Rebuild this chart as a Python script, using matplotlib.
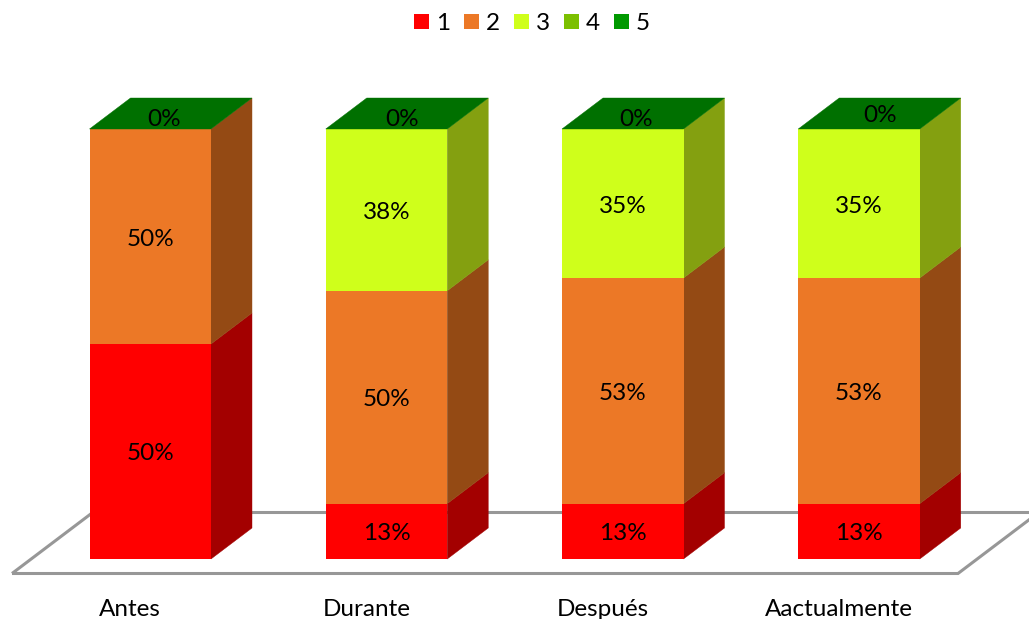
import matplotlib.pyplot as plt
from matplotlib.patches import Patch, Polygon

categories = ["Antes", "Durante", "Después", "Aactualmente"]
series_names = ["1", "2", "3", "4", "5"]
series_1 = [50, 13, 13, 13]
series_2 = [50, 50, 53, 53]
series_3 = [0, 38, 35, 35]
series_4 = [0, 0, 0, 0]
series_5 = [0, 0, 0, 0]

front_colors = ["#ff0000", "#ec7826", "#cfff1b", "#7cc000", "#009900"]
side_colors = ["#a30000", "#944a14", "#84a010", "#4f7a00", "#006000"]
top_color = "#007000"
floor_color = "#979797"

plt.rcParams["font.family"] = ["Lato", "DejaVu Sans"]
FONT_SIZE = 17.5

# one axes over the whole canvas, scaled so a full bar spans 430 px
W, H = 1029, 619
PX_X = 236.25
PX_Y = 4.3
fig = plt.figure(figsize=(W / 100, H / 100), dpi=100)
ax = fig.add_axes([0, 0, 1, 1])
ax.set_xlim(-150.25 / PX_X, (W - 150.25) / PX_X)
ax.set_ylim(-(H - 559) / PX_Y, 559 / PX_Y)
ax.axis("off")

bar_w = 121.5 / PX_X
depth_x = 41 / PX_X
depth_y = 31 / PX_Y


def draw_floor():
    # the floor runs past the right edge of the canvas, the axes clips it
    x0 = -138.25 / PX_X
    x1 = 807.75 / PX_X
    y0 = -14.5 / PX_Y
    y1 = 46.5 / PX_Y
    shift = (y1 - y0) * PX_Y / 31 * depth_x
    floor = Polygon(
        [(x0, y0), (x1, y0), (x1 + shift, y1), (x0 + shift, y1)],
        closed=True, fill=False, edgecolor=floor_color, linewidth=2.2, zorder=1,
    )
    ax.add_patch(floor)


def draw_bar(x, values):
    total = sum(values)
    left = x - bar_w / 2
    right = x + bar_w / 2
    base = 0
    for i, value in enumerate(values):
        share = value / total * 100
        if share > 0:
            ax.bar(x, share, bar_w, bottom=base, color=front_colors[i], linewidth=0, zorder=3)
            side = Polygon(
                [
                    (right, base),
                    (right + depth_x, base + depth_y),
                    (right + depth_x, base + share + depth_y),
                    (right, base + share),
                ],
                closed=True, facecolor=side_colors[i], edgecolor=side_colors[i],
                linewidth=0.3, zorder=2,
            )
            ax.add_patch(side)
        base += share
    top = Polygon(
        [(left, base), (right, base), (right + depth_x, base + depth_y), (left + depth_x, base + depth_y)],
        closed=True, facecolor=top_color, edgecolor=top_color, linewidth=0.3, zorder=4,
    )
    ax.add_patch(top)


def draw_labels(x, values, top_dx, top_dy):
    total = sum(values)
    base = 0
    for value in values[:3]:
        share = value / total * 100
        if value > 0:
            ax.text(x, base + share / 2 - 2.5 / PX_Y, f"{value}%", ha="center", va="center",
                    fontsize=FONT_SIZE, color="black", zorder=5)
        base += share
    ax.text(x + top_dx / PX_X, base + top_dy / PX_Y, "0%", ha="center", va="center",
            fontsize=FONT_SIZE, color="black", zorder=5)


# the 0% labels on the lid sit a little differently on each bar
top_label_dx = [14, 16, 13, 21]
top_label_dy = [10, 10, 10, 14]

draw_floor()
for n, name in enumerate(categories):
    values = [series_1[n], series_2[n], series_3[n], series_4[n], series_5[n]]
    draw_bar(n, values)
    draw_labels(n, values, top_label_dx[n], top_label_dy[n])
    ax.text(n - 20 / PX_X, -50 / PX_Y, name, ha="center", va="center",
            fontsize=FONT_SIZE, color="black")

handles = [Patch(facecolor=c, edgecolor="none", label=s) for c, s in zip(front_colors, series_names)]
fig.legend(
    handles=handles, loc="center", bbox_to_anchor=(532 / W, 1 - 23.5 / H), ncol=5, frameon=False,
    fontsize=FONT_SIZE, handlelength=0.62, handleheight=0.62, handletextpad=0.29,
    columnspacing=0.56, borderpad=0, borderaxespad=0,
)

fig.savefig("out.png", dpi=100)
